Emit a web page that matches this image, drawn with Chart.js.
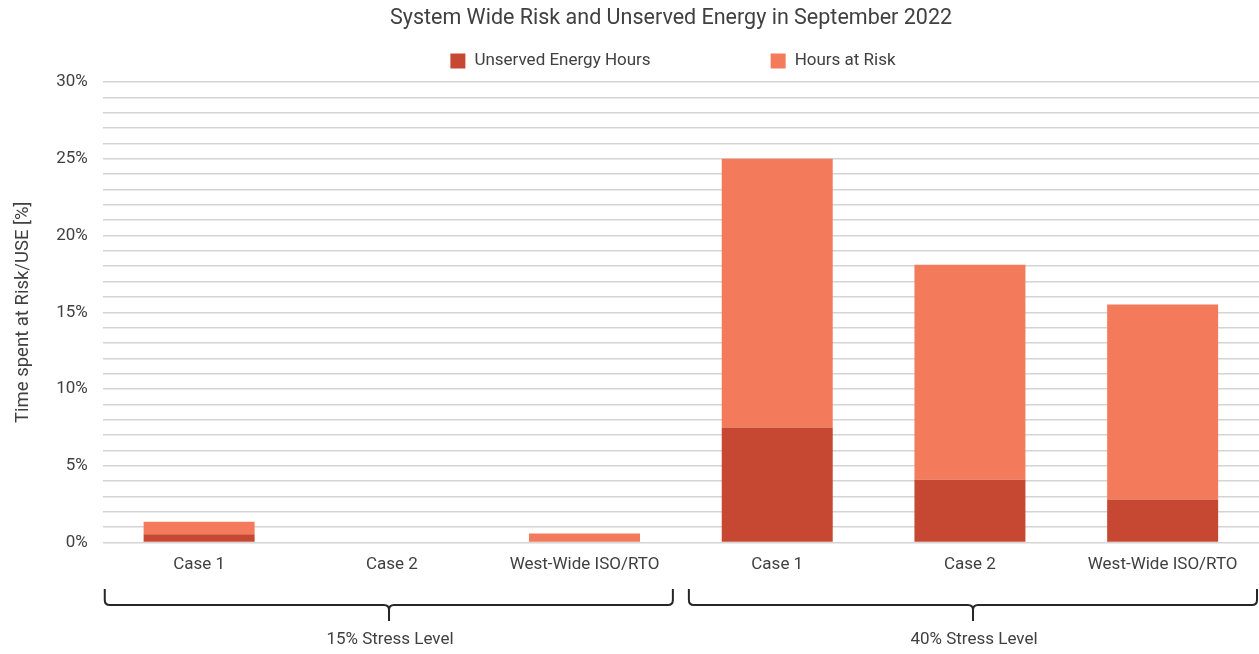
<!DOCTYPE html>
<html>
<head>
<meta charset="utf-8">
<script src="https://cdn.jsdelivr.net/npm/chart.js@4/dist/chart.umd.min.js"></script>
<style>
  html, body { margin: 0; padding: 0; background: #ffffff; }
  #wrap { width: 1259px; height: 654px; position: relative; }
</style>
</head>
<body>
<div id="wrap"><canvas id="chart"></canvas></div>
<script>
// Categories (two stress-level groups of three cases each)
const categories = ['Case 1', 'Case 2', 'West-Wide ISO/RTO', 'Case 1', 'Case 2', 'West-Wide ISO/RTO'];
const groupLabels = ['15% Stress Level', '40% Stress Level'];
const groupSize = 3;

// Share of hours (%) — stacked segments
const unservedEnergyHours = [0.55, 0, 0, 7.5, 4.1, 2.8];
const hoursAtRisk = [0.8, 0, 0.6, 17.5, 14.0, 12.7];

const yTickMax = 30;
const yLabelStep = 5;

const chartTitle = 'System Wide Risk and Unserved Energy in September 2022';
const FONT = "'Roboto', 'DejaVu Sans', sans-serif";
const TEXT = '#404040';

// Title and legend, centred over the plot
const headerPlugin = {
  id: 'header',
  afterDraw(chart) {
    const ctx = chart.ctx;
    const items = chart.data.datasets;
    const box = 15, gapText = 9, gapItem = 120, y = 61, cx = 673;
    ctx.save();
    ctx.fillStyle = TEXT;
    ctx.textBaseline = 'middle';
    ctx.textAlign = 'center';
    ctx.font = '21.5px ' + FONT;
    ctx.fillText(chartTitle, 671, 19);

    ctx.font = '17px ' + FONT;
    const widths = items.map(d => box + gapText + ctx.measureText(d.label).width);
    const total = widths.reduce((a, b) => a + b, 0) + gapItem * (items.length - 1);
    let x = cx - total / 2;
    ctx.textAlign = 'left';
    items.forEach((d, i) => {
      ctx.fillStyle = d.backgroundColor;
      ctx.fillRect(x, y - box / 2, box, box);
      ctx.fillStyle = TEXT;
      ctx.fillText(d.label, x + box + gapText, y);
      x += widths[i] + gapItem;
    });
    ctx.restore();
  }
};

// Curly brackets grouping the categories under the x axis
const bracketPlugin = {
  id: 'groupBrackets',
  afterDraw(chart) {
    const ctx = chart.ctx;
    const xs = chart.scales.x;
    const n = categories.length;
    const step = (xs.right - xs.left) / n;
    const yTop = 589, yBar = 605, yTip = 621, r = 5;
    ctx.save();
    ctx.strokeStyle = '#262626';
    ctx.lineWidth = 2;
    ctx.lineJoin = 'round';
    groupLabels.forEach((label, g) => {
      const left = xs.left + g * groupSize * step;
      const right = left + groupSize * step;
      const x0 = left + (g === 0 ? 2 : 8);
      const x1 = right - (g === groupLabels.length - 1 ? 2 : 8);
      const cx = Math.round((x0 + x1) / 2);
      ctx.beginPath();
      ctx.moveTo(x0, yTop);
      ctx.lineTo(x0, yBar - r);
      ctx.quadraticCurveTo(x0, yBar, x0 + r, yBar);
      ctx.lineTo(cx - r, yBar);
      ctx.quadraticCurveTo(cx, yBar, cx, yBar + r);
      ctx.lineTo(cx, yTip);
      ctx.moveTo(cx, yBar + r);
      ctx.quadraticCurveTo(cx, yBar, cx + r, yBar);
      ctx.lineTo(x1 - r, yBar);
      ctx.quadraticCurveTo(x1, yBar, x1, yBar - r);
      ctx.lineTo(x1, yTop);
      ctx.stroke();
      ctx.fillStyle = TEXT;
      ctx.font = '17px ' + FONT;
      ctx.textAlign = 'center';
      ctx.textBaseline = 'middle';
      ctx.fillText(label, cx + 1, 640);
    });
    ctx.restore();
  }
};

new Chart(document.getElementById('chart'), {
  type: 'bar',
  data: {
    labels: categories,
    datasets: [
      { label: 'Unserved Energy Hours', data: unservedEnergyHours, backgroundColor: '#C74832', borderWidth: 0 },
      { label: 'Hours at Risk', data: hoursAtRisk, backgroundColor: '#F37B5B', borderWidth: 0 }
    ]
  },
  options: {
    responsive: true,
    maintainAspectRatio: false,
    animation: false,
    devicePixelRatio: 1,
    layout: { padding: { left: 0, right: 0, top: 82, bottom: 75 } },
    datasets: { bar: { barPercentage: 0.576, categoryPercentage: 1.0 } },
    plugins: {
      legend: { display: false },
      tooltip: { enabled: false },
      title: { display: false }
    },
    scales: {
      x: {
        stacked: true,
        grid: { display: false },
        border: { display: false },
        ticks: { color: TEXT, font: { family: FONT, size: 17 }, padding: 4, maxRotation: 0, autoSkip: false }
      },
      y: {
        stacked: true,
        min: 0,
        max: yTickMax,
        border: { display: false },
        grid: { color: '#d4d4d4', lineWidth: 1.5, drawTicks: false },
        ticks: {
          stepSize: 1,
          autoSkip: false,
          padding: 15,
          color: TEXT,
          font: { family: FONT, size: 17 },
          callback: v => (v % yLabelStep === 0 ? v + '%' : '')
        },
        title: {
          display: true,
          text: 'Time spent at Risk/USE [%]',
          color: TEXT,
          font: { family: FONT, size: 18.5 },
          padding: { top: 12, bottom: 7 }
        }
      }
    }
  },
  plugins: [headerPlugin, bracketPlugin]
});
</script>
</body>
</html>
